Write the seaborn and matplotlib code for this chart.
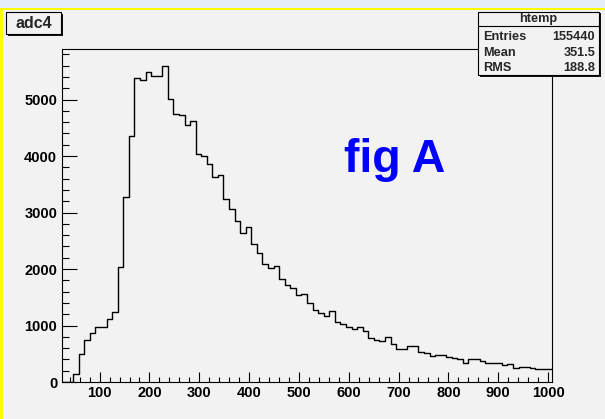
import numpy as np
import pandas as pd
import matplotlib
matplotlib.use("Agg")
import matplotlib.pyplot as plt
import seaborn as sns
from matplotlib.patches import Rectangle
from matplotlib.lines import Line2D
from matplotlib.ticker import MultipleLocator

# ---------------- data ----------------
x_low = 24.5
x_high = 1008.0
counts = [
    0, 0, 150, 490, 745, 860, 965, 965, 1110, 1245,
    2040, 3280, 4350, 5390, 5340, 5480, 5420, 5420, 5600, 5005,
    4750, 4730, 4545, 4620, 4035, 4000, 3855, 3630, 3665, 3240,
    3060, 2855, 2630, 2740, 2437, 2290, 2088, 2012, 2060, 1817,
    1717, 1670, 1546, 1563, 1393, 1280, 1227, 1174, 1250, 1058,
    1030, 979, 938, 970, 897, 776, 746, 726, 796, 676,
    593, 593, 643, 643, 534, 505, 466, 484, 484, 440,
    420, 415, 345, 407, 407, 375, 340, 336, 332, 307,
    319, 254, 271, 265, 250, 238, 224, 224,
]
hist_title = "adc4"
stats_name = "htemp"
stats_labels = ["Entries", "Mean", "RMS"]
stats_values = ["155440", "351.5", "188.8"]
annotation = "fig A"
y_max = 5895

n_bins = len(counts)
edges = np.linspace(x_low, x_high, n_bins + 1)
centers = (edges[:-1] + edges[1:]) / 2
df = pd.DataFrame({"adc4": centers, "count": counts})

# ---------------- style ----------------
sns.set_theme(style="white")
plt.rcParams['font.family'] = ['Liberation Sans', 'DejaVu Sans']
plt.rcParams['font.weight'] = 'bold'

BG = "#f2f2f2"
W, H = 605, 419


def fx(px):
    return px / W


def fy(py):
    return 1 - py / H


fig = plt.figure(figsize=(W / 100, H / 100), dpi=100, facecolor=BG)

# window strip and yellow highlight border
fig.add_artist(Rectangle((0, fy(8.5)), 1, 8.5 / H, transform=fig.transFigure,
                         facecolor="#e4eef9", edgecolor="none", zorder=0))
fig.add_artist(Rectangle((0, fy(10.5)), 1, 2.2 / H, transform=fig.transFigure,
                         facecolor="#ffff00", edgecolor="none", zorder=0))
fig.add_artist(Rectangle((0, 0), 3 / W, fy(8.5), transform=fig.transFigure,
                         facecolor="#ffff00", edgecolor="none", zorder=0))

ax = fig.add_axes([fx(62), fy(382), (552 - 62) / W, (382 - 49) / H])
ax.set_facecolor(BG)

sns.histplot(data=df, x="adc4", weights="count", bins=list(edges), element="step",
             fill=False, color="black", linewidth=1.0, ax=ax)

ax.set_xlim(x_low, x_high)
ax.set_ylim(0, y_max)
ax.set_xlabel("")
ax.set_ylabel("")

for s in ax.spines.values():
    s.set_visible(True)
    s.set_color("black")
    s.set_linewidth(0.8)

ax.xaxis.set_major_locator(MultipleLocator(100))
ax.xaxis.set_minor_locator(MultipleLocator(20))
ax.yaxis.set_major_locator(MultipleLocator(1000))
ax.yaxis.set_minor_locator(MultipleLocator(200))

ax.tick_params(axis="x", which="major", direction="in", length=7.2, width=0.8,
               pad=3, labelsize=10.5, colors="black", bottom=True, top=False)
ax.tick_params(axis="x", which="minor", direction="in", length=3.6, width=0.8,
               bottom=True, top=False, colors="black")
ax.tick_params(axis="y", which="major", direction="in", length=10.8, width=0.8,
               pad=3.5, labelsize=10.5, colors="black", left=True, right=False)
ax.tick_params(axis="y", which="minor", direction="in", length=5, width=0.8,
               left=True, right=False, colors="black")

# annotation
fig.text(fx(395), fy(172), annotation, color="#0000ff", fontsize=33.5,
         fontweight="bold", ha="center", va="baseline")

# title box
def box(x0, y0, x1, y1):
    fig.add_artist(Rectangle((fx(x0 + 2), fy(y1 + 2)), (x1 - x0) / W, (y1 - y0) / H,
                             transform=fig.transFigure, facecolor="#111111",
                             edgecolor="none", zorder=5))
    fig.add_artist(Rectangle((fx(x0), fy(y1)), (x1 - x0) / W, (y1 - y0) / H,
                             transform=fig.transFigure, facecolor=BG,
                             edgecolor="black", linewidth=0.8, zorder=6))

box(6, 12, 61, 34)
fig.text(fx(33.5), fy(23.5), hist_title, fontsize=11.5, fontweight="bold",
         ha="center", va="center", zorder=7)

# stats box
box(477.5, 11.5, 599, 75)
fig.add_artist(Line2D([fx(477.5), fx(599)], [fy(26.5), fy(26.5)],
                      transform=fig.transFigure, color="black", linewidth=0.8, zorder=7))
fig.text(fx(538), fy(19), stats_name, fontsize=9.2, fontweight="bold",
         ha="center", va="center", zorder=7)
rows_y = [36.5, 52.5, 68.0]
for lab, val, yy in zip(stats_labels, stats_values, rows_y):
    fig.text(fx(483), fy(yy), lab, fontsize=9.2, fontweight="bold",
             ha="left", va="center", zorder=7)
    fig.text(fx(595), fy(yy), val, fontsize=9.2, fontweight="bold",
             ha="right", va="center", zorder=7)

fig.savefig("out.png", dpi=100, facecolor=BG)
